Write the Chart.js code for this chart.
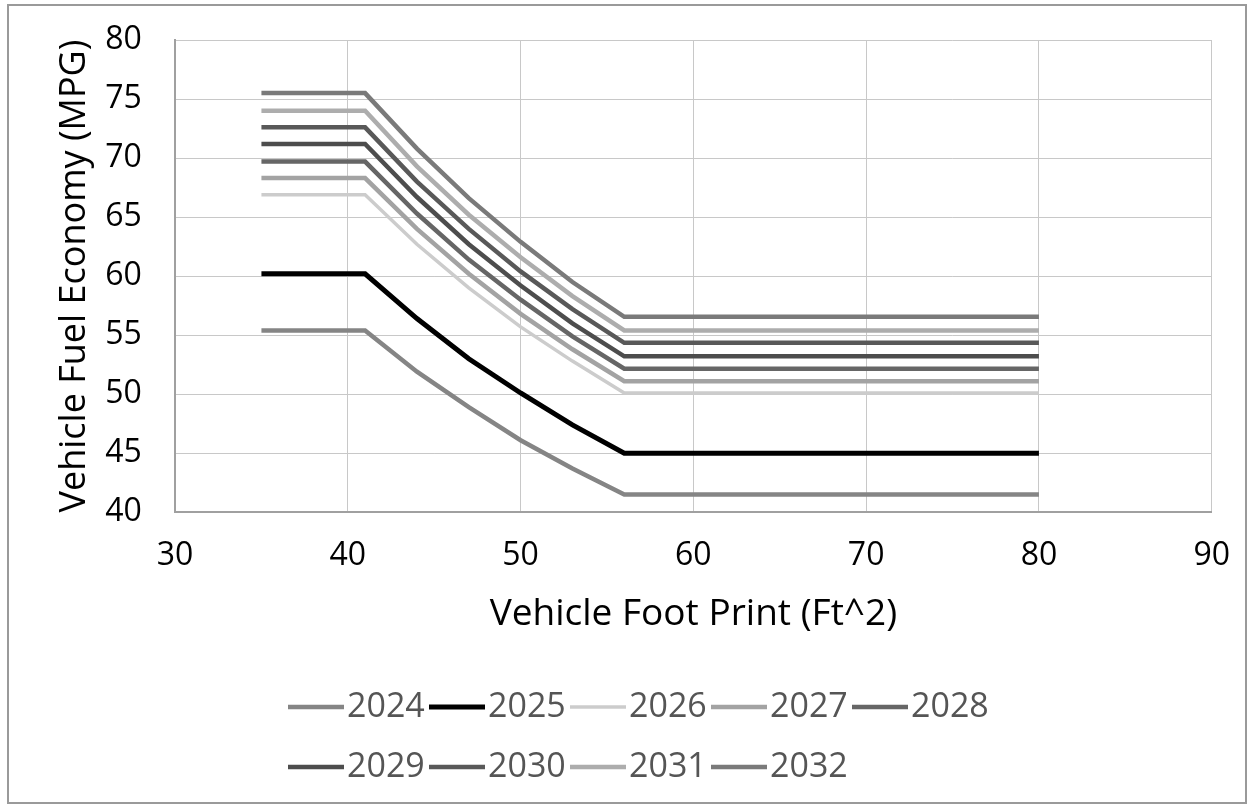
<!DOCTYPE html>
<html>
<head>
<meta charset="utf-8">
<script src="https://cdn.jsdelivr.net/npm/chart.js@4.4.0/dist/chart.umd.min.js"></script>
<style>
    html, body { margin: 0; padding: 0; background: #fff; }
    #wrap { width: 1254px; height: 808px; }
</style>
</head>
<body>
<div id="wrap"><canvas id="fuelChart"></canvas></div>
<script>
const footprint = [35, 41, 44, 47, 50, 53, 56, 80];

const mpg2024 = [55.4, 55.4, 51.9, 48.9, 46.1, 43.7, 41.5, 41.5];
const mpg2025 = [60.2, 60.2, 56.4, 53.0, 50.1, 47.4, 45.0, 45.0];
const mpg2026 = [66.9, 66.9, 62.7, 59.0, 55.7, 52.8, 50.1, 50.1];
const mpg2027 = [68.3, 68.3, 64.0, 60.2, 56.8, 53.8, 51.1, 51.1];
const mpg2028 = [69.7, 69.7, 65.3, 61.4, 58.0, 54.9, 52.15, 52.15];
const mpg2029 = [71.2, 71.2, 66.7, 62.7, 59.2, 56.0, 53.2, 53.2];
const mpg2030 = [72.6, 72.6, 68.0, 64.0, 60.4, 57.2, 54.35, 54.35];
const mpg2031 = [74.0, 74.0, 69.3, 65.2, 61.6, 58.3, 55.4, 55.4];
const mpg2032 = [75.5, 75.5, 70.8, 66.6, 62.9, 59.5, 56.55, 56.55];

const years = ["2024", "2025", "2026", "2027", "2028", "2029", "2030", "2031", "2032"];
const series = [mpg2024, mpg2025, mpg2026, mpg2027, mpg2028, mpg2029, mpg2030, mpg2031, mpg2032];
const lineColors = ["#858585", "#000000", "#cccccc", "#a3a3a3", "#666666", "#4d4d4d", "#595959", "#adadad", "#7a7a7a"];
const lineWidths = [4.5, 5, 3.5, 4.5, 4.5, 4.5, 4.5, 4.5, 4.5];

const xTicks = [30, 40, 50, 60, 70, 80, 90];
const yTicks = [40, 45, 50, 55, 60, 65, 70, 75, 80];

const mainFont = "'Open Sans', 'Noto Sans', sans-serif";

// white page plus the thin frame round the whole figure
const frame = {
    id: "frame",
    beforeDraw(chart) {
        const ctx = chart.ctx;
        ctx.save();
        ctx.fillStyle = "#fff";
        ctx.fillRect(0, 0, chart.width, chart.height);
        ctx.strokeStyle = "#9a9a9a";
        ctx.lineWidth = 2;
        ctx.strokeRect(8, 5, chart.width - 16, chart.height - 10);
        ctx.restore();
    }
};

// two-row legend under the axis title, 5 entries then 4
const rowLegend = {
    id: "rowLegend",
    afterDraw(chart) {
        const ctx = chart.ctx;
        const rows = [[0, 1, 2, 3, 4], [5, 6, 7, 8]];
        const rowY = [707, 767];
        ctx.save();
        ctx.font = "34px " + mainFont;
        ctx.textBaseline = "middle";
        rows.forEach((row, r) => {
            let x = 288;
            row.forEach(i => {
                const ds = chart.data.datasets[i];
                ctx.strokeStyle = ds.borderColor;
                ctx.lineWidth = ds.borderWidth;
                ctx.beginPath();
                ctx.moveTo(x, rowY[r]);
                ctx.lineTo(x + 56, rowY[r]);
                ctx.stroke();
                ctx.fillStyle = "#555";
                ctx.fillText(ds.label, x + 59, rowY[r]);
                x += 141;
            });
        });
        ctx.restore();
    }
};

new Chart(document.getElementById("fuelChart"), {
    type: "scatter",
    data: {
        datasets: years.map((year, i) => ({
            label: year,
            data: footprint.map((fp, j) => ({ x: fp, y: series[i][j] })),
            showLine: true,
            borderColor: lineColors[i],
            backgroundColor: lineColors[i],
            borderWidth: lineWidths[i],
            pointRadius: 0,
            tension: 0
        }))
    },
    options: {
        responsive: true,
        maintainAspectRatio: false,
        animation: false,
        layout: {
            padding: { top: 40, left: 40, right: 42, bottom: 171 }
        },
        plugins: {
            legend: { display: false },
            tooltip: { enabled: false }
        },
        scales: {
            x: {
                type: "linear",
                min: 30,
                max: 90,
                afterBuildTicks: axis => { axis.ticks = xTicks.map(v => ({ value: v })); },
                ticks: {
                    color: "#000",
                    font: { family: mainFont, size: 32 },
                    padding: 24
                },
                grid: { color: "#c8c8c8", lineWidth: 1, drawTicks: false },
                border: { color: "#a0a0a0", width: 2 },
                title: {
                    display: true,
                    text: "Vehicle Foot Print (Ft^2)",
                    color: "#000",
                    font: { family: mainFont, size: 37 },
                    padding: { top: -6, bottom: 0 }
                }
            },
            y: {
                type: "linear",
                min: 40,
                max: 80,
                afterBuildTicks: axis => { axis.ticks = yTicks.map(v => ({ value: v })); },
                ticks: {
                    color: "#000",
                    font: { family: mainFont, size: 32 },
                    padding: 0,
                    // trailing spaces leave the gap between labels and plot
                    callback: v => v + "    "
                },
                grid: { color: "#c8c8c8", lineWidth: 1, drawTicks: false },
                border: { color: "#a0a0a0", width: 2 },
                title: {
                    display: true,
                    text: "Vehicle Fuel Economy (MPG)",
                    color: "#000",
                    font: { family: mainFont, size: 36 },
                    padding: { top: 13, bottom: 9 }
                }
            }
        }
    },
    plugins: [frame, rowLegend]
});
</script>
</body>
</html>
